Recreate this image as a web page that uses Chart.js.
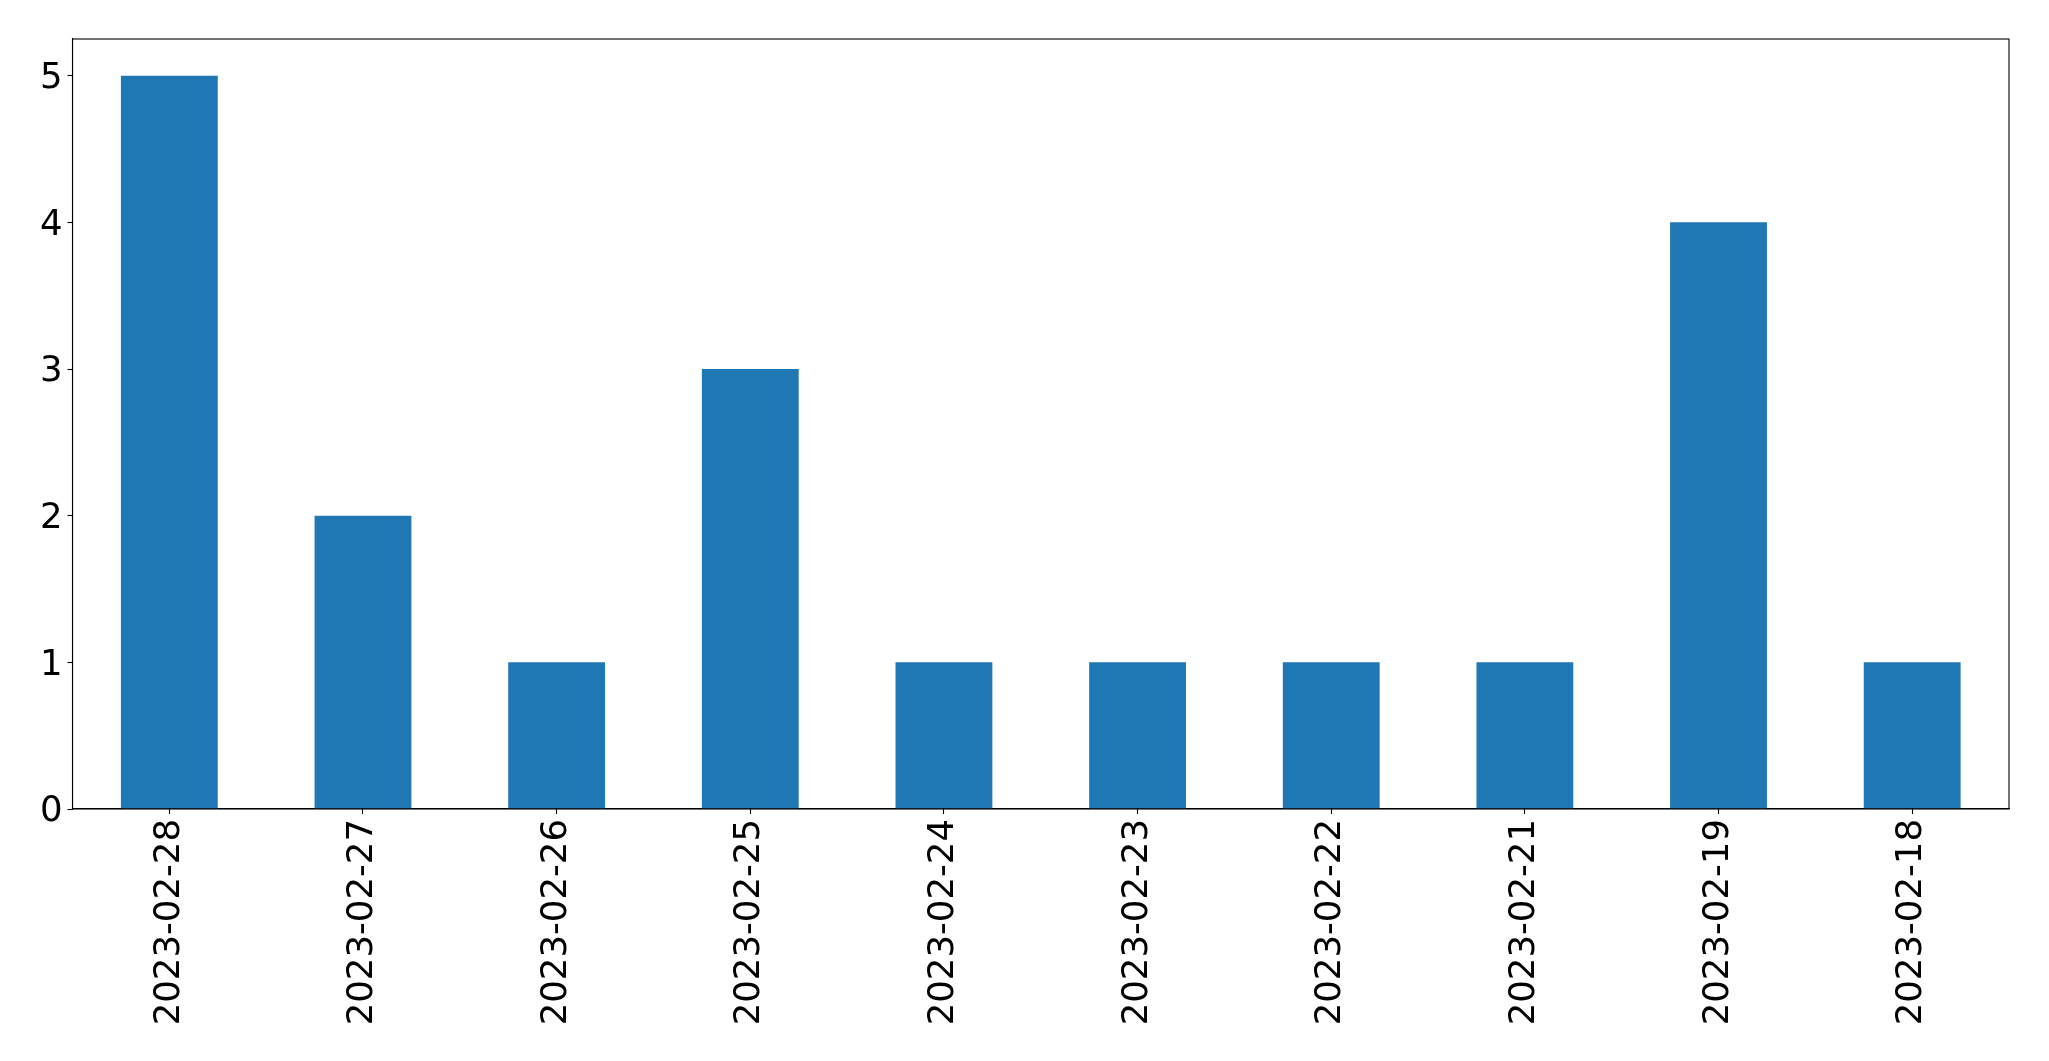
<!DOCTYPE html>
<html>
<head>
<meta charset="utf-8">
<script src="https://cdn.jsdelivr.net/npm/chart.js@4/dist/chart.umd.min.js"></script>
<style>
html,body{margin:0;padding:0;background:#fff;}
#wrap{width:2049px;height:1061px;}
</style>
</head>
<body>
<div id="wrap"><canvas id="c" width="2049" height="1061"></canvas></div>
<script>
const categories = ["2023-02-28","2023-02-27","2023-02-26","2023-02-25","2023-02-24","2023-02-23","2023-02-22","2023-02-21","2023-02-19","2023-02-18"];
const counts = [5,2,1,3,1,1,1,1,4,1];
const yTicks = [0,1,2,3,4,5];

const FONT = {family: "'DejaVu Sans', sans-serif", size: 35.5};

const framePlugin = {
  id: 'frame',
  afterDraw(chart) {
    const {ctx, chartArea: a} = chart;
    ctx.save();
    ctx.strokeStyle = '#000';
    ctx.lineWidth = 1.1;
    ctx.strokeRect(a.left, a.top, a.right - a.left, a.bottom - a.top);
    ctx.restore();
  }
};

new Chart(document.getElementById('c'), {
  type: 'bar',
  data: {
    labels: categories,
    datasets: [{
      data: counts,
      backgroundColor: '#1f77b4',
      borderWidth: 0,
      barPercentage: 0.5,
      categoryPercentage: 1.0
    }]
  },
  plugins: [framePlugin],
  options: {
    responsive: false,
    animation: false,
    devicePixelRatio: 1,
    layout: {padding: {top: 39, right: 40, left: 0, bottom: 0}},
    plugins: {legend: {display: false}, tooltip: {enabled: false}},
    scales: {
      x: {
        offset: true,
        grid: {display: true, offset: false, drawOnChartArea: false, tickLength: 5, tickColor: '#000', tickWidth: 1.1},
        border: {display: true, color: '#000', width: 1.1},
        ticks: {color: '#000', font: FONT, minRotation: 90, maxRotation: 90, padding: 5, autoSkip: false},
        afterFit(s) { s.height = 252; }
      },
      y: {
        min: 0,
        max: 5.25,
        grid: {display: true, drawOnChartArea: false, tickLength: 5, tickColor: '#000', tickWidth: 1.1},
        border: {display: true, color: '#000', width: 1.1},
        ticks: {color: '#000', font: FONT, padding: 5, stepSize: 1, includeBounds: false, labelOffset: 3},
        afterBuildTicks(s) { s.ticks = yTicks.map(v => ({value: v})); },
        afterFit(s) { s.width = 72.5; }
      }
    }
  }
});
</script>
</body>
</html>
